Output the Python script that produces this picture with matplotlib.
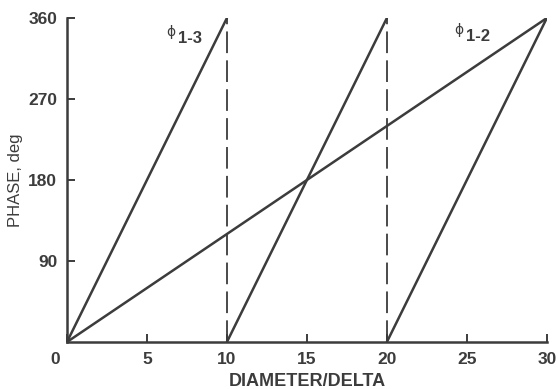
import matplotlib
matplotlib.use("Agg")
import matplotlib.pyplot as plt
from matplotlib.transforms import ScaledTranslation

# Data
phi13_x = [0, 10, 10, 20, 20, 30]
phi13_y = [0, 360, 0, 360, 0, 360]
phi12_x = [0, 30]
phi12_y = [0, 360]
jump_x = [10, 20]
xticks = [0, 5, 10, 15, 20, 25, 30]
yticks = [90, 180, 270, 360]

ink = "#3c3c3c"
plt.rcParams['font.family'] = ['Liberation Sans', 'DejaVu Sans']

fig = plt.figure(figsize=(5.58, 3.89), dpi=100)
ax = fig.add_axes([0.120, 0.1208, 0.860, 0.8329])

# Solid segments of phi_1-3
for i in range(0, len(phi13_x), 2):
    ax.plot(phi13_x[i:i+2], phi13_y[i:i+2], color=ink, lw=1.8, solid_capstyle='round')
# Vertical dashed jumps
for xj in jump_x:
    ax.plot([xj, xj], [0, 360], color=ink, lw=1.3, dashes=(12, 4))
# phi_1-2
ax.plot(phi12_x, phi12_y, color=ink, lw=1.8)

ax.set_xlim(0, 30)
ax.set_ylim(0, 360)
ax.spines['top'].set_visible(False)
ax.spines['right'].set_visible(False)
for s in ('left', 'bottom'):
    ax.spines[s].set_color(ink)
    ax.spines[s].set_linewidth(1.8)

ax.set_xticks(xticks)
ax.set_yticks(yticks)
ax.tick_params(direction='in', length=6, width=1.4, color=ink, labelcolor=ink,
               labelsize=12.5)
ax.tick_params(axis='x', pad=7)
ax.tick_params(axis='y', pad=7)
for lab in ax.get_xticklabels() + ax.get_yticklabels():
    lab.set_fontweight('bold')
# the "0" label sits left of the corner in the reference
zero = ax.get_xticklabels()[0]
zero.set_transform(zero.get_transform() + ScaledTranslation(-0.12, 0, fig.dpi_scale_trans))

ax.set_xlabel("DIAMETER/DELTA", fontsize=13, fontweight='bold', color=ink)
ax.xaxis.set_label_coords(0.5, -0.095)
ax.set_ylabel("PHASE, deg", fontsize=12, fontweight='medium', color=ink)
ax.yaxis.set_label_coords(-0.092, 0.5)

# Curve labels
ax.text(6.5, 344, "\u03d5", fontsize=10, family='DejaVu Sans', color=ink, ha='center', va='center')
ax.text(7.7, 337, "1-3", fontsize=12, fontweight='bold', color=ink, ha='center', va='center')
ax.text(24.5, 347, "\u03d5", fontsize=10, family='DejaVu Sans', color=ink, ha='center', va='center')
ax.text(25.7, 340, "1-2", fontsize=12, fontweight='bold', color=ink, ha='center', va='center')

fig.savefig("out.png", dpi=100)
